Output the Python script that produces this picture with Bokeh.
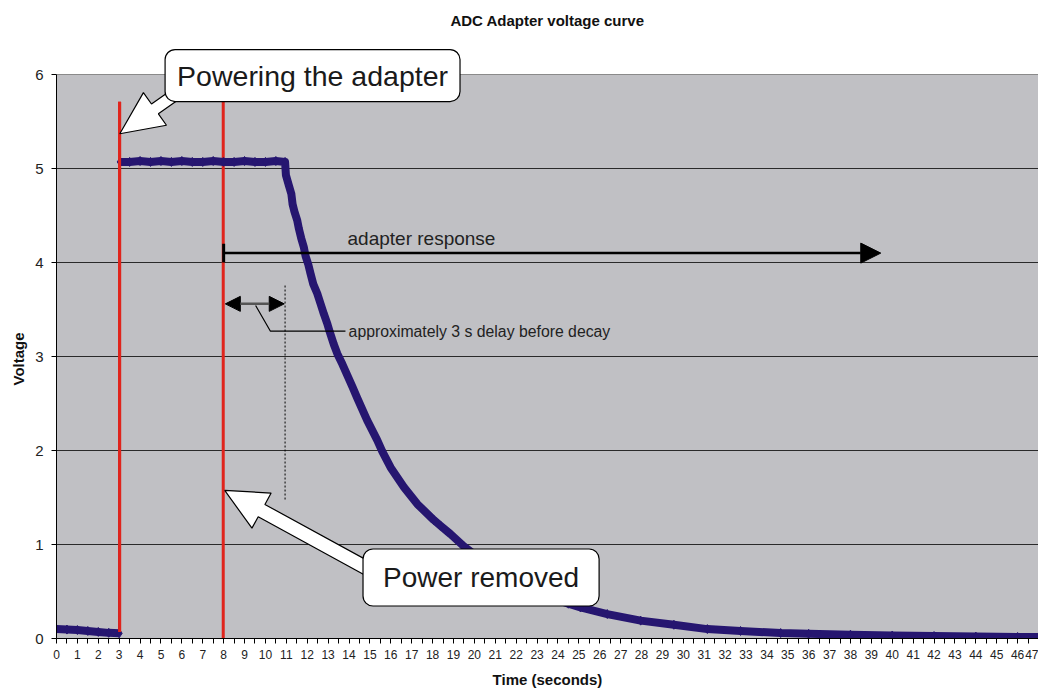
from bokeh.plotting import figure
from bokeh.models import FixedTicker, Label, Arrow, NormalHead, Range1d, Title
from bokeh.embed import file_html
from bokeh.resources import INLINE

# ---------------- data ----------------
time_s = [0.0, 0.5, 1.0, 1.5, 2.0, 2.5, 3.0,
          3.05, 3.5, 4.0, 4.5, 5.0, 5.5, 6.0, 6.5, 7.0, 7.5, 8.0, 8.5, 9.0, 9.5, 10.0, 10.5, 10.94,
          10.98, 11.12, 11.24, 11.30, 11.39, 11.52, 11.60, 11.71, 11.84, 11.92,
          12.05, 12.16, 12.29, 12.48, 12.64, 12.80, 12.96, 13.08, 13.27, 13.44,
          13.68, 13.92, 14.16, 14.39, 14.87, 15.35, 15.59, 15.99, 16.63, 17.27,
          18.06, 18.38, 18.86, 19.50, 20.5, 21.5, 22.5, 23.5, 24.5, 25.08,
          26.36, 27.96, 29.55, 31.15, 32.74, 34.66, 36.0, 38.0, 40.0, 42.0,
          44.0, 46.0, 47.0]
voltage = [0.10, 0.095, 0.09, 0.08, 0.07, 0.06, 0.055,
           5.07, 5.07, 5.08, 5.07, 5.08, 5.07, 5.08, 5.07, 5.07, 5.08, 5.07, 5.07, 5.08, 5.07, 5.07, 5.08, 5.07,
           4.93, 4.82, 4.73, 4.62, 4.54, 4.45, 4.36, 4.26, 4.16, 4.07,
           3.98, 3.88, 3.77, 3.67, 3.56, 3.45, 3.35, 3.26, 3.13, 3.03,
           2.92, 2.80, 2.68, 2.56, 2.32, 2.11, 1.99, 1.82, 1.61, 1.43,
           1.26, 1.20, 1.11, 0.98, 0.81, 0.67, 0.55, 0.45, 0.37, 0.33,
           0.26, 0.19, 0.146, 0.10, 0.08, 0.058, 0.05, 0.04, 0.032, 0.026,
           0.02, 0.016, 0.015]
jump_index = 7  # first sample after power is applied

x_ticks = list(range(0, 48))
x_minor_ticks = [i + 0.5 for i in range(47)]
y_ticks = [0, 1, 2, 3, 4, 5, 6]
grid_levels = [1, 2, 3, 4, 5]

event_times = [3.02, 7.98]          # power on / power off markers
event_tops = [5.71, 5.71]
event_bottoms = [0.07, 0.0]

title_text = "ADC Adapter voltage curve"
x_label = "Time (seconds)"
y_label = "Voltage"

NAVY = "#261670"
RED = "#E0241C"
PLOT_BG = "#C0C0C4"
FONT = "Liberation Sans"

X_MAX, Y_AXIS_MAX = 47, 6
SX = 982 / X_MAX        # px per second
SY = 564 / Y_AXIS_MAX   # px per volt
Y_TOP = 638 / SY        # frame reaches the top of the page (white above the plot area)

p = figure(width=1038, height=691, x_range=Range1d(0, X_MAX), y_range=Range1d(0, Y_TOP),
           output_backend="svg", toolbar_location=None, tools="", title=None,
           min_border_left=56, min_border_right=0, min_border_top=0, min_border_bottom=53)

p.background_fill_color = "white"
p.border_fill_color = "white"
p.outline_line_color = None

# plot area (grey) below the grid level
p.quad(left=[0], right=[X_MAX], bottom=[0], top=[Y_AXIS_MAX], fill_color=PLOT_BG,
       line_color=None, level="image")
p.segment(x0=[0], y0=[Y_AXIS_MAX], x1=[X_MAX], y1=[Y_AXIS_MAX], line_color="#8A8A8A",
          line_width=1, level="image")

p.xgrid.visible = False
p.ygrid.ticker = FixedTicker(ticks=grid_levels)
p.ygrid.grid_line_color = "#2A2A2A"
p.ygrid.grid_line_width = 1

# x axis
p.xaxis.ticker = FixedTicker(ticks=x_ticks, minor_ticks=x_minor_ticks)
p.xaxis.axis_line_color = "black"
p.xaxis.major_tick_in = 0
p.xaxis.major_tick_out = 5
p.xaxis.minor_tick_in = 0
p.xaxis.minor_tick_out = 5
p.xaxis.major_tick_line_color = "black"
p.xaxis.minor_tick_line_color = "black"
p.xaxis.major_label_text_font = FONT
p.xaxis.major_label_text_font_size = "12px"
p.xaxis.major_label_text_color = "#222222"
p.xaxis.major_label_standoff = 6
p.xaxis.axis_label = x_label
p.xaxis.axis_label_text_font = FONT
p.xaxis.axis_label_text_font_size = "15px"
p.xaxis.axis_label_text_font_style = "bold"
p.xaxis.axis_label_text_color = "#111111"
p.xaxis.axis_label_standoff = 9

# y axis
p.yaxis.ticker = FixedTicker(ticks=y_ticks)
p.yaxis.bounds = (0, Y_AXIS_MAX)
p.yaxis.axis_line_color = "black"
p.yaxis.major_tick_in = 0
p.yaxis.major_tick_out = 5
p.yaxis.minor_tick_in = 0
p.yaxis.minor_tick_out = 0
p.yaxis.major_tick_line_color = "black"
p.yaxis.major_label_text_font = FONT
p.yaxis.major_label_text_font_size = "15px"
p.yaxis.major_label_text_color = "#222222"
p.yaxis.major_label_standoff = 8

# y label as a side title so it can be centred on the 0..6 span
p.add_layout(Title(text=y_label, align="left", offset=253, vertical_align="middle",
                   text_font=FONT, text_font_size="15px", text_font_style="bold",
                   text_color="#111111"), "left")

# ---------------- event markers (red lines) ----------------
p.segment(x0=event_times, y0=event_bottoms, x1=event_times, y1=event_tops,
          line_color=RED, line_width=3)

# ---------------- data series ----------------
p.line(time_s, voltage, line_color=NAVY, line_width=1.5)
p.line(time_s[:jump_index], voltage[:jump_index], line_color=NAVY, line_width=8, line_join="round")
p.line(time_s[jump_index:], voltage[jump_index:], line_color=NAVY, line_width=8, line_join="round")
p.scatter(time_s, voltage, marker="diamond", size=9, fill_color=NAVY, line_color=NAVY)
p.segment(x0=event_times[:1], y0=event_bottoms[:1], x1=event_times[:1], y1=event_tops[:1],
          line_color=RED, line_width=3)


# ---------------- annotations ----------------
def block_arrow(tip, tail, head_len, head_hw, shaft_hw):
    tx, ty = tip[0] * SX, tip[1] * SY
    bx, by = tail[0] * SX, tail[1] * SY
    dx, dy = bx - tx, by - ty
    L = (dx * dx + dy * dy) ** 0.5
    ux, uy = dx / L, dy / L
    nx, ny = -uy, ux
    hx, hy = tx + ux * head_len, ty + uy * head_len
    pts = [(tx, ty),
           (hx + nx * head_hw, hy + ny * head_hw),
           (hx + nx * shaft_hw, hy + ny * shaft_hw),
           (bx + nx * shaft_hw, by + ny * shaft_hw),
           (bx - nx * shaft_hw, by - ny * shaft_hw),
           (hx - nx * shaft_hw, hy - ny * shaft_hw),
           (hx - nx * head_hw, hy - ny * head_hw)]
    return [q[0] / SX for q in pts], [q[1] / SY for q in pts]


ax1, ay1 = block_arrow((3.03, 5.37), (6.6, 5.93), 43, 20, 6)
ax2, ay2 = block_arrow((8.05, 1.575), (15.5, 0.67), 42, 20, 7)
p.patches([ax1, ax2], [ay1, ay2], fill_color="white", line_color="black", line_width=1.2)

# adapter response arrow
p.add_layout(Arrow(end=NormalHead(size=20, fill_color="black", line_color="black"),
                   x_start=8.0, y_start=4.10, x_end=39.45, y_end=4.10,
                   line_color="black", line_width=2.5))
p.segment(x0=[8.0], y0=[4.0], x1=[8.0], y1=[4.2], line_color="black", line_width=3)
p.add_layout(Label(x=13.93, y=4.255, text="adapter response", text_font=FONT,
                   text_font_size="19px", text_color="#222222",
                   text_align="left", text_baseline="middle"))

# delay double arrow + dotted marker + leader
p.add_layout(Arrow(start=NormalHead(size=15, fill_color="black", line_color="black"),
                   end=NormalHead(size=15, fill_color="black", line_color="black"),
                   x_start=8.08, y_start=3.56, x_end=10.9, y_end=3.56,
                   line_color="#555555", line_width=2.5))
p.line([10.94, 10.94], [3.755, 1.468], line_color="black", line_width=1, line_dash="2 2")
p.line([9.53, 10.24, 13.83], [3.543, 3.269, 3.269], line_color="black", line_width=1.2)
p.add_layout(Label(x=13.98, y=3.27, text="approximately 3 s delay before decay",
                   text_font=FONT, text_font_size="15.8px", text_color="#222222",
                   text_align="left", text_baseline="middle"))

# callout boxes
p.add_layout(Label(x=12.255, y=5.989, text="Powering the adapter", text_font=FONT,
                   text_font_size="28.5px", text_color="#1A1A1A",
                   text_align="center", text_baseline="middle",
                   background_fill_color="white", border_line_color="black",
                   border_line_width=1.2, border_radius=10,
                   padding=dict(left=12, right=12, top=10, bottom=10)))
p.add_layout(Label(x=20.32, y=0.649, text="Power removed", text_font=FONT,
                   text_font_size="28px", text_color="#1A1A1A",
                   text_align="center", text_baseline="middle",
                   background_fill_color="white", border_line_color="black",
                   border_line_width=1.2, border_radius=10,
                   padding=dict(left=20, right=20, top=13, bottom=13)))

# chart title (inside the white band above the plot area)
p.add_layout(Label(x=X_MAX / 2, y=(638 - 20) / SY, text=title_text, text_font=FONT,
                   text_font_size="15px", text_font_style="bold", text_color="#111111",
                   text_align="center", text_baseline="middle"))

open("out.html", "w").write(file_html(p, INLINE))
